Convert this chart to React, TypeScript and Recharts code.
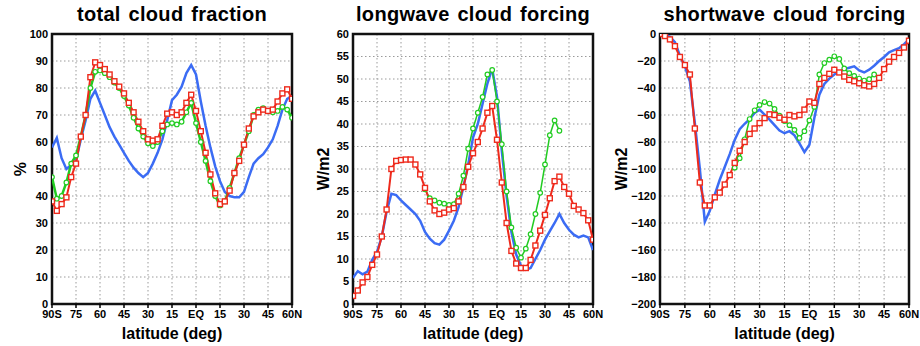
import { CartesianGrid, Line, LineChart, ReferenceArea, XAxis, YAxis } from "recharts";

const LATITUDES = [
  -90, -87, -84, -81, -78, -75, -72, -69, -66, -63, -60, -57, -54, -51, -48, -45, -42, -39, -36, -33, -30, -27, -24,
  -21, -18, -15, -12, -9, -6, -3, 0, 3, 6, 9, 12, 15, 18, 21, 24, 27, 30, 33, 36, 39, 42, 45, 48, 51, 54, 57, 60
];
const LAT_TICKS = [-90, -75, -60, -45, -30, -15, 0, 15, 30, 45, 60];

// total cloud fraction (%)
const cloudBlue = [
  58, 61.5, 54, 50, 51.5, 53, 61, 68, 76, 79, 74.5, 70, 65.5, 62, 59, 56, 53, 50.5, 48.5, 47, 48.5, 52, 56, 61, 68, 75.5,
  77.5, 80.5, 85.5, 88.5, 85, 75, 66, 58, 51, 45.5, 41.5, 40, 39.5, 39.5, 41.5, 47, 52, 54, 55.5, 58, 61, 66, 72, 76, 77
];
const cloudGreen = [
  47, 39, 40, 45, 52, 55, 62, 70, 80, 86, 86.5, 85.5, 84, 82, 80, 77, 73.5, 69, 65, 62, 59.5, 58.5, 60, 64, 66.5, 67,
  66.5, 67.5, 71, 74.5, 67, 60, 53, 45.5, 40, 36.5, 38, 43, 48.5, 54, 59, 64, 70, 72, 72.5, 71.5, 71, 71.5, 73, 72, 69
];
const cloudRed = [
  38, 34.5, 37, 39.5, 47, 52, 62, 70, 84, 89.5, 88.5, 87, 85, 82.5, 80.5, 78, 74.5, 71, 67.5, 64, 61, 60.5, 61, 66, 70.5,
  71, 70, 71, 74.5, 77.5, 71.5, 64, 56, 48, 41, 37, 38, 42, 48.5, 53, 59, 65, 69.5, 71, 72, 71.5, 72, 75, 78, 79.5, 76
];

// longwave cloud forcing (W/m2)
const lwBlue = [
  5.8, 7.3, 6.6, 7.2, 9.8, 11.6, 15, 20.5, 24.5, 24.2, 23, 22, 21, 20, 18.5, 16, 14.5, 13.5, 13.2, 14.3, 16.3, 18.5,
  21.5, 26, 31, 37, 40, 44.5, 49, 52.3, 46, 34, 24, 16, 11, 8.5, 7.6, 8, 10, 12, 14.3, 16.2, 18, 20, 18, 16.5, 15.4,
  14.8, 15.2, 14.8, 12
];
const lwGreen = [
  null, null, null, null, null, null, null, null, null, null, null, null, null, null, null, 25.5, 23.5, 23, 22.5, 22.3,
  22, 22.2, 24.5, 28.5, 34.5, 39, 42.5, 46, 51, 52, 45, 35.5, 25, 17, 12.5, 10.3, 12.3, 15.5, 20, 24.7, 31, 37.5, 40.8,
  38.5, null, null, null, null, null, null, null
];
const lwRed = [
  1.8, 3, 4.8, 6, 8.7, 11, 15, 21, 30, 31.8, 32, 32.1, 32.1, 31, 28.8, 25.8, 22.8, 20.8, 20, 20.3, 21, 21.3, 22.8, 26,
  30.5, 33.5, 36, 39, 42.5, 44, 36.5, 27, 18, 11.8, 9, 8, 8, 9.8, 13, 16.3, 19.8, 23.5, 27.3, 28.3, 26, 24.5, 21.8, 21,
  20.2, 18.6, 14.3
];

// shortwave cloud forcing (W/m2)
const swBlue = [
  0, -0.5, -2, -6, -16, -24, -35, -66, -100, -139, -131, -119, -108, -98.5, -89, -78.5, -70.5, -66.5, -63, -58.5, -56,
  -59.7, -63.5, -67.5, -71.5, -73.5, -72, -75, -81, -87.5, -82, -62, -45, -37, -33, -30, -28, -26, -25, -24, -27, -28.5,
  -26.4, -23.5, -20, -17, -13.5, -12, -10.5, -7.5, -4
];
const swGreen = [
  null, null, null, null, null, null, null, null, null, null, null, null, null, null, null, -99, -92, -78, -63, -56.5,
  -52.5, -50.4, -51.5, -55.5, -60.5, -64.5, -67.5, -71, -77, -72, -64, -54, -30, -21.5, -19, -16.5, -18.5, -25.5, -29,
  -31, -33, -34.5, -33.5, -30, null, null, null, null, null, null, null
];
const swRed = [
  0, -1.5, -4, -9, -17, -23, -30, -70, -110, -127, -127, -121, -117.5, -111.5, -104.5, -95.5, -86.5, -80, -74, -70, -66,
  -62.3, -59.5, -60, -62, -63.5, -60, -61, -60, -56, -50, -51, -37, -32.5, -29.5, -26.5, -28.5, -31.5, -34, -35, -36.5,
  -38, -38.8, -37, -32.5, -26, -20.5, -17, -14, -10, -5
];

const CLOUD_TICKS = [0, 10, 20, 30, 40, 50, 60, 70, 80, 90, 100];
const LW_TICKS = [0, 5, 10, 15, 20, 25, 30, 35, 40, 45, 50, 55, 60];
const SW_TICKS = [-200, -180, -160, -140, -120, -100, -80, -60, -40, -20, 0];

const BLUE = "#3b6cf4";
const GREEN = "#22cc22";
const RED = "#ee2a1c";
const FONT = "'Liberation Sans', Arial, sans-serif";

const PLOT_TOP = 34;
const PLOT_BOTTOM = 304;
const HEIGHT = 346;

function latLabel(value: number) {
  if (value === 0) return "EQ";
  if (value === -90) return "90S";
  if (value === 60) return "60N";
  return String(Math.abs(value));
}

function minusLabel(value: number) {
  return value < 0 ? `\u2212${Math.abs(value)}` : String(value);
}

function SquareDot(props: any) {
  const { cx, cy, index } = props;
  if (cx == null || cy == null) return <g key={`sq-${index}`} />;
  return (
    <rect
      key={`sq-${index}`}
      x={cx - 2.5}
      y={cy - 2.5}
      width={5}
      height={5}
      fill="#fff"
      stroke={RED}
      strokeWidth={1.4}
    />
  );
}

interface PanelProps {
  title: string;
  unit: string;
  left: number;
  width: number;
  axisWidth: number;
  rightGap: number;
  unitOffset: number;
  domain: [number, number];
  ticks: number[];
  blue: number[];
  green: (number | null)[];
  red: number[];
  greenWidth: number;
}

function Panel(props: PanelProps) {
  const { title, unit, left, width, axisWidth, rightGap, unitOffset, domain, ticks, blue, green, red, greenWidth } = props;
  const data = LATITUDES.map((lat, i) => ({ lat, blue: blue[i], green: green[i], red: red[i] }));
  const tickStyle = { fill: "#000", fontSize: 11, fontWeight: "bold", fontFamily: FONT };
  const plotWidth = width - axisWidth - rightGap;

  return (
    <div style={{ position: "absolute", left, top: 0, width, height: HEIGHT }}>
      <div
        style={{
          position: "absolute",
          left: axisWidth - 20,
          width: plotWidth + 40,
          top: 3,
          textAlign: "center",
          fontFamily: FONT,
          fontWeight: "bold",
          fontSize: 20,
          letterSpacing: 0.3,
          wordSpacing: 2,
          color: "#000",
          whiteSpace: "nowrap"
        }}
      >
        {title}
      </div>
      <LineChart
        width={width}
        height={HEIGHT}
        data={data}
        margin={{ top: PLOT_TOP, right: rightGap, left: 0, bottom: 0 }}
      >
        <CartesianGrid stroke="#9a9a9a" strokeDasharray="1.5 2.5" />
        <XAxis
          type="number"
          dataKey="lat"
          domain={[-90, 60]}
          ticks={LAT_TICKS}
          tickFormatter={latLabel}
          interval={0}
          height={HEIGHT - PLOT_BOTTOM}
          tick={tickStyle}
          tickSize={4}
          tickMargin={2}
          tickLine={{ stroke: "#000", strokeWidth: 1.5 }}
          axisLine={false}
          allowDataOverflow
          label={{
            value: "latitude (deg)",
            position: "insideBottom",
            offset: 7,
            style: { fill: "#000", fontSize: 16, fontWeight: "bold", fontFamily: FONT }
          }}
        />
        <YAxis
          type="number"
          domain={domain}
          ticks={ticks}
          interval={0}
          width={axisWidth}
          tick={tickStyle}
          tickFormatter={minusLabel}
          tickSize={4}
          tickMargin={0}
          tickLine={false}
          axisLine={false}
          allowDataOverflow
          label={{
            value: unit,
            angle: -90,
            position: "insideLeft",
            offset: unitOffset,
            style: { fill: "#000", fontSize: 16, fontWeight: "bold", fontFamily: FONT, textAnchor: "middle" }
          }}
        />
        <Line
          type="linear"
          dataKey="blue"
          stroke={BLUE}
          strokeWidth={2.5}
          dot={false}
          isAnimationActive={false}
        />
        <Line
          type="linear"
          dataKey="green"
          stroke={GREEN}
          strokeWidth={greenWidth}
          dot={{ r: 2.3, fill: "#fff", stroke: GREEN, strokeWidth: 1.2 }}
          connectNulls={false}
          isAnimationActive={false}
        />
        <Line
          type="linear"
          dataKey="red"
          stroke={RED}
          strokeWidth={2}
          dot={SquareDot}
          isAnimationActive={false}
        />
        <ReferenceArea
          x1={-90}
          x2={60}
          y1={domain[0]}
          y2={domain[1]}
          fill="none"
          stroke="#111"
          strokeWidth={2.5}
          ifOverflow="visible"
        />
      </LineChart>
    </div>
  );
}

export default function App() {
  return (
    <div style={{ position: "absolute", left: 0, top: 0, width: 920, height: HEIGHT, background: "#fff", overflow: "hidden" }}>
      <Panel
        title="total cloud fraction"
        unit="%"
        left={0}
        width={312}
        axisWidth={52}
        rightGap={20}
        unitOffset={20}
        domain={[0, 100]}
        ticks={CLOUD_TICKS}
        blue={cloudBlue}
        green={cloudGreen}
        red={cloudRed}
        greenWidth={2.5}
      />
      <Panel
        title="longwave cloud forcing"
        unit="W/m2"
        left={300}
        width={312}
        axisWidth={53}
        rightGap={19}
        unitOffset={23}
        domain={[0, 60]}
        ticks={LW_TICKS}
        blue={lwBlue}
        green={lwGreen}
        red={lwRed}
        greenWidth={1.5}
      />
      <Panel
        title="shortwave cloud forcing"
        unit="W/m2"
        left={610}
        width={310}
        axisWidth={50}
        rightGap={11}
        unitOffset={11}
        domain={[-200, 0]}
        ticks={SW_TICKS}
        blue={swBlue}
        green={swGreen}
        red={swRed}
        greenWidth={1.5}
      />
    </div>
  );
}
